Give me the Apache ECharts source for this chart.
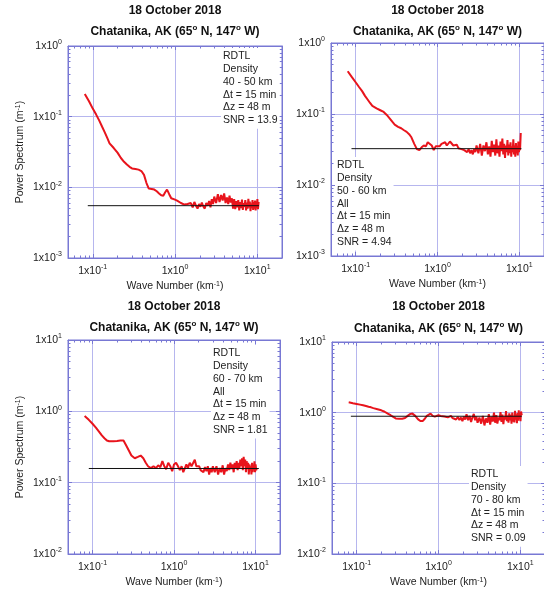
<!DOCTYPE html>
<html>
<head>
<meta charset="utf-8">
<script src="https://cdn.jsdelivr.net/npm/echarts@6/dist/echarts.min.js"></script>
<style>
html, body { margin: 0; padding: 0; background: #fff; }
#chart { width: 544px; height: 592px; }
</style>
</head>
<body>
<div id="chart"></div>
<script>
// 波数 (km^-1)，四个谱共用
const waveNumber = [
    0.08, 0.09, 0.10, 0.11, 0.12, 0.13, 0.14, 0.15, 0.16, 0.18,
    0.20, 0.22, 0.24, 0.26, 0.28, 0.30, 0.33, 0.36, 0.39, 0.42,
    0.45, 0.48, 0.52, 0.56, 0.60, 0.64, 0.68, 0.72, 0.76, 0.80,
    0.85, 0.90, 0.95, 1.00, 1.06, 1.12, 1.18, 1.24, 1.30, 1.36,
    1.42, 1.48, 1.56, 1.64, 1.72, 1.80, 1.88, 1.96, 2.04, 2.12,
    2.20, 2.30, 2.40, 2.50, 2.60, 2.70, 2.80, 2.90, 3.00, 3.16,
    3.32, 3.48, 3.64, 3.80, 3.96, 4.12, 4.28, 4.44, 4.60, 4.76,
    4.92, 5.08, 5.24, 5.40, 5.56, 5.72, 5.88, 6.04, 6.20, 6.36,
    6.52, 6.68, 6.84, 7.00, 7.16, 7.32, 7.48, 7.64, 7.80, 7.96,
    8.12, 8.28, 8.44, 8.60, 8.76, 8.92, 9.08, 9.24, 9.40, 9.56,
    9.72, 9.88, 10.04, 10.20, 10.40
];

// 功率谱 (m^-1)
const psd40to50 = [
    0.21, 0.165, 0.13, 0.107, 0.088, 0.072, 0.060, 0.050, 0.042, 0.036,
    0.031, 0.026, 0.023, 0.021, 0.0195, 0.0185, 0.0182, 0.0178, 0.0170, 0.0150,
    0.0115, 0.0096, 0.0095, 0.0093, 0.0088, 0.0082, 0.0077, 0.0076, 0.0085, 0.0093,
    0.0080, 0.0070, 0.0070, 0.0067, 0.0065, 0.0062, 0.0060, 0.0058, 0.0057, 0.0054,
    0.0058, 0.0056, 0.0060, 0.0052, 0.0062, 0.0055, 0.0050, 0.0058, 0.0053, 0.0061,
    0.0054, 0.0050, 0.0060, 0.0055, 0.0064, 0.0052, 0.0068, 0.0058, 0.0074, 0.0060,
    0.0080, 0.0062, 0.0078, 0.0065, 0.0082, 0.0060, 0.0072, 0.0058, 0.0076, 0.0061,
    0.0070, 0.0050, 0.0068, 0.0049, 0.0064, 0.0052, 0.0066, 0.0047, 0.0062, 0.0051,
    0.0067, 0.0048, 0.0060, 0.0053, 0.0066, 0.0047, 0.0061, 0.0050, 0.0069, 0.0052,
    0.0063, 0.0046, 0.0059, 0.0051, 0.0066, 0.0048, 0.0062, 0.0050, 0.0065, 0.0047,
    0.0063, 0.0052, 0.0068, 0.0049, 0.0062
];
const psd50to60 = [
    0.40, 0.33, 0.28, 0.24, 0.21, 0.18, 0.16, 0.143, 0.130, 0.120,
    0.113, 0.107, 0.097, 0.087, 0.078, 0.071, 0.066, 0.063, 0.059, 0.056,
    0.052, 0.047, 0.038, 0.032, 0.031, 0.034, 0.036, 0.035, 0.040, 0.042,
    0.036, 0.031, 0.035, 0.037, 0.035, 0.038, 0.037, 0.040, 0.036, 0.038,
    0.041, 0.039, 0.036, 0.035, 0.037, 0.033, 0.034, 0.032, 0.033, 0.031,
    0.033, 0.029, 0.032, 0.028, 0.031, 0.027, 0.032, 0.029, 0.036, 0.028,
    0.038, 0.026, 0.036, 0.030, 0.040, 0.027, 0.035, 0.025, 0.042, 0.029,
    0.037, 0.026, 0.044, 0.028, 0.036, 0.025, 0.041, 0.030, 0.045, 0.027,
    0.038, 0.024, 0.036, 0.029, 0.043, 0.026, 0.037, 0.028, 0.040, 0.025,
    0.035, 0.029, 0.044, 0.027, 0.036, 0.025, 0.039, 0.028, 0.034, 0.026,
    0.041, 0.029, 0.035, 0.031, 0.054
];
const psd60to70 = [
    0.86, 0.76, 0.67, 0.59, 0.52, 0.46, 0.42, 0.39, 0.38, 0.38,
    0.385, 0.39, 0.39, 0.33, 0.28, 0.24, 0.22, 0.23, 0.24, 0.22,
    0.19, 0.17, 0.16, 0.17, 0.16, 0.175, 0.165, 0.20, 0.17, 0.155,
    0.19, 0.17, 0.145, 0.18, 0.19, 0.17, 0.15, 0.17, 0.14, 0.16,
    0.18, 0.16, 0.19, 0.17, 0.18, 0.21, 0.17, 0.16, 0.17, 0.15,
    0.16, 0.14, 0.165, 0.145, 0.17, 0.13, 0.16, 0.14, 0.17, 0.14,
    0.17, 0.13, 0.16, 0.14, 0.175, 0.13, 0.16, 0.145, 0.18, 0.15,
    0.19, 0.155, 0.18, 0.14, 0.19, 0.16, 0.20, 0.15, 0.19, 0.16,
    0.21, 0.17, 0.22, 0.15, 0.23, 0.17, 0.21, 0.14, 0.20, 0.16,
    0.19, 0.13, 0.18, 0.15, 0.17, 0.13, 0.19, 0.14, 0.17, 0.15,
    0.20, 0.14, 0.18, 0.15, 0.16
];
const psd70to80 = [
    1.40, 1.36, 1.33, 1.30, 1.27, 1.24, 1.21, 1.19, 1.16, 1.12,
    1.08, 1.03, 0.97, 0.92, 0.87, 0.83, 0.82, 0.82, 0.84, 0.90,
    0.96, 0.97, 0.90, 0.81, 0.76, 0.76, 0.82, 0.90, 0.93, 0.97,
    0.90, 0.88, 0.90, 0.92, 0.90, 0.93, 0.88, 0.91, 0.86, 0.82,
    0.90, 0.84, 0.88, 0.80, 0.87, 0.79, 0.85, 0.76, 0.88, 0.80,
    0.95, 0.78, 0.90, 0.74, 0.86, 0.96, 0.78, 0.88, 0.72, 0.85,
    0.70, 0.90, 0.66, 0.83, 0.72, 0.95, 0.68, 0.88, 0.75, 1.00,
    0.72, 0.92, 0.70, 0.86, 0.78, 1.02, 0.74, 0.94, 0.69, 0.88,
    0.80, 1.05, 0.76, 0.91, 0.72, 0.98, 0.78, 0.93, 0.70, 1.00,
    0.75, 0.89, 0.73, 1.06, 0.80, 0.95, 0.71, 0.99, 0.77, 1.08,
    0.82, 0.93, 0.76, 1.04, 0.92
];
const spectra = [psd40to50, psd50to60, psd60to70, psd70to80];

// 噪声水平 (黑线)
const noiseLevel = [0.0055, 0.0325, 0.158, 0.89];
const noiseStart = [0.087, 0.089, 0.09, 0.085];
const noiseEnd = [10.5, 10.6, 11.0, 10.4];

// 坐标轴范围
const xMin = 0.05, xMax = 20;
const yMin = [1e-3, 1e-3, 1e-2, 1e-2];
const yMax = [1, 1, 10, 10];

// 文字
const titleDate = '18 October 2018';
const titleSite = '{t|Chatanika, AK (65}{deg|o}{t| N, 147}{deg|o}{t| W)}';
const xName = 'Wave Number (km{sup|-1})';
const yName = 'Power Spectrum (m{sup|-1})';
const notes = [
    ['RDTL', 'Density', '40 - 50 km', 'Δt = 15 min', 'Δz = 48 m', 'SNR = 13.9'],
    ['RDTL', 'Density', '50 - 60 km', 'All', 'Δt = 15 min', 'Δz = 48 m', 'SNR = 4.94'],
    ['RDTL', 'Density', '60 - 70 km', 'All', 'Δt = 15 min', 'Δz = 48 m', 'SNR = 1.81'],
    ['RDTL', 'Density', '70 - 80 km', 'Δt = 15 min', 'Δz = 48 m', 'SNR = 0.09']
];

// 版面
const layout = [
    { left: 68, top: 46, width: 214, height: 212, t1: 5, t2: 24, note: [221, 48], yLabel: true },
    { left: 331, top: 43, width: 213, height: 213, t1: 5, t2: 24, note: [335, 157], yLabel: false },
    { left: 68, top: 340, width: 212, height: 214, t1: 301, t2: 320, note: [211, 345], yLabel: true },
    { left: 332, top: 342, width: 213, height: 212, t1: 301, t2: 321, note: [469, 466], yLabel: false }
];

const FRAME = '#7878d4';
const GRID = '#b6b6ee';
const FONT = 'Liberation Sans, Arial, sans-serif';

const supRich = {
    b: { fontSize: 10.5, fontFamily: FONT, color: '#222', lineHeight: 14 },
    sup: { fontSize: 7, fontFamily: FONT, color: '#222', verticalAlign: 'top', lineHeight: 8 }
};

function powerLabel(value) {
    const e = Math.log10(value);
    if (Math.abs(e - Math.round(e)) > 1e-6) return '';
    return '{b|1x10}{sup|' + Math.round(e) + '}';
}

const chart = echarts.init(document.getElementById('chart'));

const grids = [], xAxes = [], yAxes = [], series = [], titles = [];

layout.forEach((p, i) => {
    grids.push({
        left: p.left, top: p.top, width: p.width, height: p.height,
        show: true, borderColor: FRAME, borderWidth: 1, backgroundColor: 'transparent',
        outerBoundsMode: 'none', containLabel: false
    });

    const tickStyle = {
        axisLine: { show: true, lineStyle: { color: FRAME, width: 1 } },
        axisTick: { show: true, inside: true, length: 4, lineStyle: { color: FRAME } },
        minorTick: { show: true, splitNumber: 9, length: 2.5, lineStyle: { color: FRAME } }
    };

    // 下方 x 轴
    xAxes.push(Object.assign({
        type: 'log', logBase: 10, gridIndex: i, position: 'bottom',
        min: xMin, max: xMax,
        name: xName, nameLocation: 'middle', nameGap: 23,
        nameTextStyle: { fontSize: 10.5, fontFamily: FONT, color: '#222', rich: supRich },
        axisLabel: {
            margin: 6, formatter: powerLabel, rich: supRich,
            showMinLabel: false, showMaxLabel: false
        },
        splitLine: { show: true, lineStyle: { color: GRID, width: 1 } }
    }, tickStyle));
    // 上方 x 轴 (只画刻度)
    xAxes.push(Object.assign({
        type: 'log', logBase: 10, gridIndex: i, position: 'top',
        min: xMin, max: xMax,
        axisLabel: { show: false }, splitLine: { show: false }
    }, tickStyle));

    // 左侧 y 轴
    yAxes.push(Object.assign({
        type: 'log', logBase: 10, gridIndex: i, position: 'left',
        min: yMin[i], max: yMax[i],
        name: p.yLabel ? yName : '', nameLocation: 'middle', nameGap: 42, nameRotate: 90,
        nameTextStyle: { fontSize: 10.5, fontFamily: FONT, color: '#222', rich: supRich },
        axisLabel: { margin: 6, formatter: powerLabel, rich: supRich },
        splitLine: { show: true, lineStyle: { color: GRID, width: 1 } }
    }, tickStyle));
    // 右侧 y 轴 (只画刻度)
    yAxes.push(Object.assign({
        type: 'log', logBase: 10, gridIndex: i, position: 'right',
        min: yMin[i], max: yMax[i],
        axisLabel: { show: false }, splitLine: { show: false }
    }, tickStyle));

    const cx = p.left + p.width / 2;
    titles.push({
        text: titleDate, left: cx, top: p.t1, textAlign: 'center', padding: 0,
        textStyle: { fontSize: 12, fontWeight: 'bold', fontFamily: FONT, color: '#111' }
    });
    titles.push({
        text: titleSite, left: cx, top: p.t2, textAlign: 'center', padding: 0,
        textStyle: {
            rich: {
                t: { fontSize: 12, fontWeight: 'bold', fontFamily: FONT, color: '#111', lineHeight: 15 },
                deg: { fontSize: 8, fontWeight: 'bold', fontFamily: FONT, color: '#111', verticalAlign: 'top', lineHeight: 9 }
            }
        }
    });
    titles.push({
        text: notes[i].join('\n'), left: p.note[0], top: p.note[1],
        padding: [2, 2, 2, 2], backgroundColor: '#fff',
        textStyle: { fontSize: 10.5, fontWeight: 'normal', fontFamily: FONT, color: '#222', lineHeight: 12.8 }
    });

    series.push({
        type: 'line', xAxisIndex: i * 2, yAxisIndex: i * 2,
        data: waveNumber.map((k, j) => [k, spectra[i][j]]),
        symbol: 'none', lineStyle: { color: '#e8141c', width: 2 }, z: 3
    });
    series.push({
        type: 'line', xAxisIndex: i * 2, yAxisIndex: i * 2,
        data: [[noiseStart[i], noiseLevel[i]], [noiseEnd[i], noiseLevel[i]]],
        symbol: 'none', lineStyle: { color: '#111', width: 1 }, z: 4
    });
});

chart.setOption({
    animation: false,
    backgroundColor: '#fff',
    title: titles,
    grid: grids,
    xAxis: xAxes,
    yAxis: yAxes,
    series: series
});
</script>
</body>
</html>
